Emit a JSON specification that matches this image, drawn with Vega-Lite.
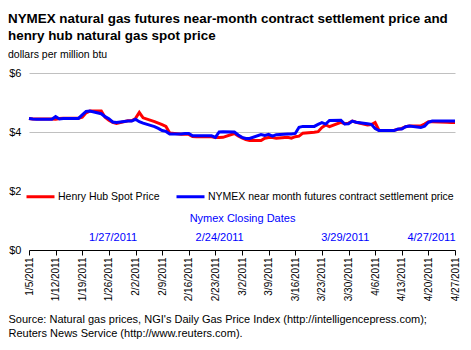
{
  "$schema": "https://vega.github.io/schema/vega-lite/v6.json",
  "autosize": {"type": "none"},
  "padding": {"top": 73, "left": 29, "right": 16, "bottom": 100},
  "width": 426,
  "height": 177,
  "background": "white",
  "config": {
    "font": "Liberation Sans",
    "view": {"stroke": null}
  },
  "title": {
    "text": ["NYMEX natural gas futures near-month contract settlement price and", "henry hub natural gas spot price"],
    "subtitle": "dollars per million btu",
    "anchor": "start",
    "frame": "group",
    "dx": -21,
    "fontSize": 13.4,
    "fontWeight": "bold",
    "lineHeight": 17,
    "color": "black",
    "subtitleFontSize": 10.5,
    "subtitleColor": "black",
    "subtitlePadding": 7,
    "offset": 7
  },
  "layer": [
    {
      "data": {
        "values": [
          {"date": "2011/01/05", "HH": 4.46, "NYMEX": 4.46},
          {"date": "2011/01/06", "HH": 4.44, "NYMEX": 4.44},
          {"date": "2011/01/07", "HH": 4.44, "NYMEX": 4.43},
          {"date": "2011/01/10", "HH": 4.44, "NYMEX": 4.43},
          {"date": "2011/01/11", "HH": 4.44, "NYMEX": 4.43},
          {"date": "2011/01/12", "HH": 4.43, "NYMEX": 4.52},
          {"date": "2011/01/13", "HH": 4.46, "NYMEX": 4.44},
          {"date": "2011/01/14", "HH": 4.47, "NYMEX": 4.46},
          {"date": "2011/01/18", "HH": 4.47, "NYMEX": 4.46},
          {"date": "2011/01/19", "HH": 4.50, "NYMEX": 4.58},
          {"date": "2011/01/20", "HH": 4.65, "NYMEX": 4.70},
          {"date": "2011/01/21", "HH": 4.71, "NYMEX": 4.71},
          {"date": "2011/01/24", "HH": 4.71, "NYMEX": 4.62},
          {"date": "2011/01/25", "HH": 4.50, "NYMEX": 4.52},
          {"date": "2011/01/26", "HH": 4.40, "NYMEX": 4.45},
          {"date": "2011/01/27", "HH": 4.33, "NYMEX": 4.34},
          {"date": "2011/01/28", "HH": 4.29, "NYMEX": 4.32},
          {"date": "2011/01/31", "HH": 4.38, "NYMEX": 4.37},
          {"date": "2011/02/01", "HH": 4.38, "NYMEX": 4.37},
          {"date": "2011/02/02", "HH": 4.46, "NYMEX": 4.43},
          {"date": "2011/02/03", "HH": 4.66, "NYMEX": 4.35},
          {"date": "2011/02/04", "HH": 4.48, "NYMEX": 4.30},
          {"date": "2011/02/07", "HH": 4.35, "NYMEX": 4.18},
          {"date": "2011/02/08", "HH": 4.30, "NYMEX": 4.12},
          {"date": "2011/02/09", "HH": 4.25, "NYMEX": 4.05},
          {"date": "2011/02/10", "HH": 4.19, "NYMEX": 4.02},
          {"date": "2011/02/11", "HH": 3.97, "NYMEX": 3.93},
          {"date": "2011/02/14", "HH": 3.92, "NYMEX": 3.93},
          {"date": "2011/02/15", "HH": 3.92, "NYMEX": 3.95},
          {"date": "2011/02/16", "HH": 3.92, "NYMEX": 3.95},
          {"date": "2011/02/17", "HH": 3.85, "NYMEX": 3.87},
          {"date": "2011/02/18", "HH": 3.84, "NYMEX": 3.87},
          {"date": "2011/02/22", "HH": 3.84, "NYMEX": 3.87},
          {"date": "2011/02/23", "HH": 3.81, "NYMEX": 3.82},
          {"date": "2011/02/24", "HH": 3.81, "NYMEX": 4.00},
          {"date": "2011/02/25", "HH": 3.82, "NYMEX": 4.01},
          {"date": "2011/02/28", "HH": 3.95, "NYMEX": 4.00},
          {"date": "2011/03/01", "HH": 3.87, "NYMEX": 3.90},
          {"date": "2011/03/02", "HH": 3.80, "NYMEX": 3.82},
          {"date": "2011/03/03", "HH": 3.74, "NYMEX": 3.78},
          {"date": "2011/03/04", "HH": 3.71, "NYMEX": 3.78},
          {"date": "2011/03/07", "HH": 3.71, "NYMEX": 3.91},
          {"date": "2011/03/08", "HH": 3.79, "NYMEX": 3.88},
          {"date": "2011/03/09", "HH": 3.81, "NYMEX": 3.92},
          {"date": "2011/03/10", "HH": 3.81, "NYMEX": 3.86},
          {"date": "2011/03/11", "HH": 3.79, "NYMEX": 3.91},
          {"date": "2011/03/14", "HH": 3.82, "NYMEX": 3.93},
          {"date": "2011/03/15", "HH": 3.79, "NYMEX": 3.93},
          {"date": "2011/03/16", "HH": 3.84, "NYMEX": 3.95},
          {"date": "2011/03/17", "HH": 3.86, "NYMEX": 4.16},
          {"date": "2011/03/18", "HH": 3.96, "NYMEX": 4.19},
          {"date": "2011/03/21", "HH": 3.99, "NYMEX": 4.19},
          {"date": "2011/03/22", "HH": 4.01, "NYMEX": 4.26},
          {"date": "2011/03/23", "HH": 4.15, "NYMEX": 4.32},
          {"date": "2011/03/24", "HH": 4.24, "NYMEX": 4.27},
          {"date": "2011/03/25", "HH": 4.18, "NYMEX": 4.39},
          {"date": "2011/03/28", "HH": 4.33, "NYMEX": 4.40},
          {"date": "2011/03/29", "HH": 4.28, "NYMEX": 4.27},
          {"date": "2011/03/30", "HH": 4.30, "NYMEX": 4.28},
          {"date": "2011/03/31", "HH": 4.37, "NYMEX": 4.37},
          {"date": "2011/04/01", "HH": 4.33, "NYMEX": 4.33},
          {"date": "2011/04/04", "HH": 4.24, "NYMEX": 4.28},
          {"date": "2011/04/05", "HH": 4.25, "NYMEX": 4.26},
          {"date": "2011/04/06", "HH": 4.32, "NYMEX": 4.12},
          {"date": "2011/04/07", "HH": 4.06, "NYMEX": 4.05},
          {"date": "2011/04/08", "HH": 4.05, "NYMEX": 4.05},
          {"date": "2011/04/11", "HH": 4.06, "NYMEX": 4.05},
          {"date": "2011/04/12", "HH": 4.09, "NYMEX": 4.10},
          {"date": "2011/04/13", "HH": 4.12, "NYMEX": 4.10},
          {"date": "2011/04/14", "HH": 4.18, "NYMEX": 4.18},
          {"date": "2011/04/15", "HH": 4.20, "NYMEX": 4.20},
          {"date": "2011/04/18", "HH": 4.21, "NYMEX": 4.15},
          {"date": "2011/04/19", "HH": 4.27, "NYMEX": 4.20},
          {"date": "2011/04/20", "HH": 4.35, "NYMEX": 4.33},
          {"date": "2011/04/21", "HH": 4.35, "NYMEX": 4.37},
          {"date": "2011/04/25", "HH": 4.33, "NYMEX": 4.37},
          {"date": "2011/04/26", "HH": 4.32, "NYMEX": 4.37},
          {"date": "2011/04/27", "HH": 4.32, "NYMEX": 4.37}
        ]
      },
      "transform": [{"fold": ["HH", "NYMEX"], "as": ["series", "price"]}],
      "mark": {"type": "line", "strokeWidth": 3},
      "encoding": {
        "x": {
          "field": "date",
          "type": "temporal",
          "scale": {"domain": [{"year": 2011, "month": 1, "date": 5}, {"year": 2011, "month": 4, "date": 27}]},
          "axis": {
            "orient": "bottom",
            "values": [
              {"year": 2011, "month": 1, "date": 5}, {"year": 2011, "month": 1, "date": 12},
              {"year": 2011, "month": 1, "date": 19}, {"year": 2011, "month": 1, "date": 26},
              {"year": 2011, "month": 2, "date": 2}, {"year": 2011, "month": 2, "date": 9},
              {"year": 2011, "month": 2, "date": 16}, {"year": 2011, "month": 2, "date": 23},
              {"year": 2011, "month": 3, "date": 2}, {"year": 2011, "month": 3, "date": 9},
              {"year": 2011, "month": 3, "date": 16}, {"year": 2011, "month": 3, "date": 23},
              {"year": 2011, "month": 3, "date": 30}, {"year": 2011, "month": 4, "date": 6},
              {"year": 2011, "month": 4, "date": 13}, {"year": 2011, "month": 4, "date": 20},
              {"year": 2011, "month": 4, "date": 27}
            ],
            "format": "%-m/%-d/%Y",
            "labelAngle": -90,
            "labelFontSize": 10,
            "labelColor": "black",
            "labelPadding": 2,
            "labelFlush": false,
            "labelOverlap": false,
            "tickSize": 5,
            "tickColor": "black",
            "domainColor": "black",
            "grid": false,
            "title": ["Source: Natural gas prices, NGI's Daily Gas Price Index (http://intelligencepress.com);", "Reuters News Service (http://www.reuters.com)."],
            "titleX": -21,
            "titleY": 63,
            "titleAlign": "left",
            "titleBaseline": "top",
            "titleFontSize": 11,
            "titleFontWeight": "normal",
            "titleColor": "black",
            "titleLineHeight": 14
          }
        },
        "y": {
          "field": "price",
          "type": "quantitative",
          "scale": {"domain": [0, 6]},
          "axis": {
            "values": [0, 2, 4, 6],
            "labelExpr": "'$' + datum.value",
            "labelFontSize": 11,
            "labelColor": "black",
            "labelPadding": 8,
            "ticks": false,
            "domain": false,
            "grid": true,
            "gridColor": "#c0c0c0",
            "title": null
          }
        },
        "color": {
          "field": "series",
          "type": "nominal",
          "scale": {"domain": ["HH", "NYMEX"], "range": ["#ff0000", "#0000ff"]},
          "legend": {
            "orient": "none",
            "legendX": -8,
            "legendY": 104,
            "direction": "horizontal",
            "title": null,
            "symbolType": "stroke",
            "symbolSize": 784,
            "symbolStrokeWidth": 3,
            "labelFontSize": 10.5,
            "labelColor": "black",
            "labelOffset": 2,
            "columnPadding": 10,
            "padding": 4,
            "fillColor": "white",
            "labelLimit": 400,
            "labelExpr": "datum.label == 'HH' ? 'Henry Hub Spot Price' : 'NYMEX near month futures contract settlement price'"
          }
        }
      }
    },
    {
      "data": {
        "values": [
          {"date": "2011/01/27"},
          {"date": "2011/02/24"},
          {"date": "2011/03/29"},
          {"date": "2011/04/27"}
        ]
      },
      "mark": {"type": "point", "opacity": 0},
      "encoding": {
        "x": {
          "field": "date",
          "type": "temporal",
          "axis": {
            "orient": "top",
            "offset": -169,
            "values": [
              {"year": 2011, "month": 1, "date": 27}, {"year": 2011, "month": 2, "date": 24},
              {"year": 2011, "month": 3, "date": 29}, {"year": 2011, "month": 4, "date": 27}
            ],
            "format": "%-m/%-d/%Y",
            "labelFontSize": 11,
            "labelColor": "#0000ff",
            "labelPadding": 0,
            "labelFlush": true,
            "labelOverlap": false,
            "ticks": false,
            "domain": false,
            "grid": false,
            "title": "Nymex Closing Dates",
            "titleColor": "#0000ff",
            "titleFontSize": 11,
            "titleFontWeight": "normal",
            "titlePadding": 8
          }
        }
      }
    }
  ],
  "resolve": {"axis": {"x": "independent"}}
}
